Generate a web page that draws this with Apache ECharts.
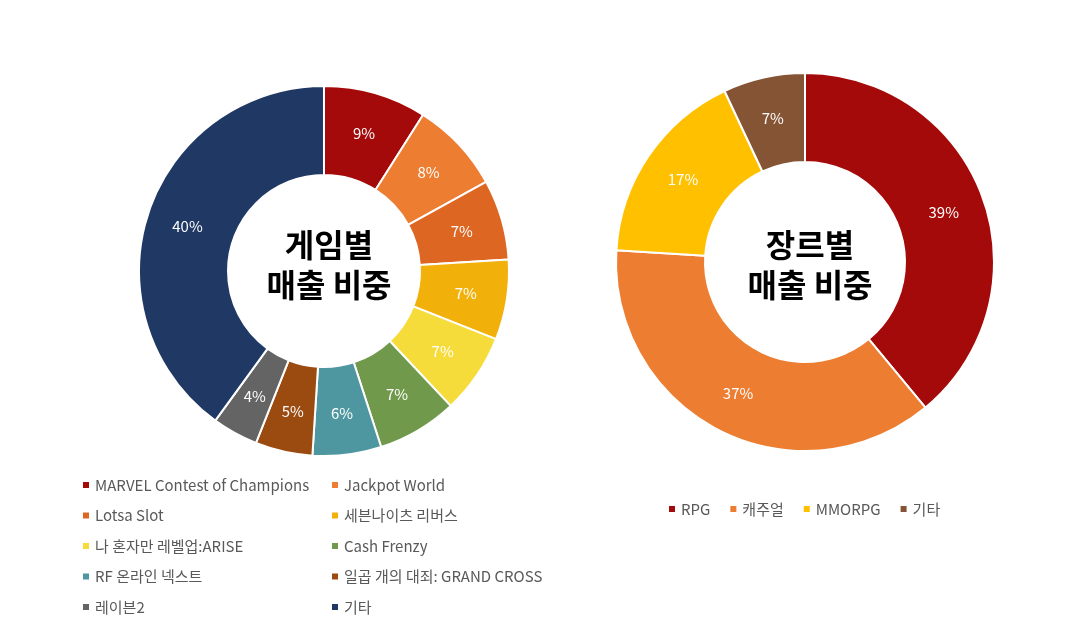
<!DOCTYPE html>
<html>
<head>
<meta charset="utf-8">
<script src="https://cdn.jsdelivr.net/npm/echarts@6/dist/echarts.min.js"></script>
<style>
  html, body { margin: 0; padding: 0; background: #fff; }
  #chart { width: 1071px; height: 634px; }
</style>
</head>
<body>
<div id="chart"></div>
<script>
// 게임별 매출 비중
const gameNames = ['MARVEL Contest of Champions', 'Jackpot World', 'Lotsa Slot', '세븐나이츠 리버스',
  '나 혼자만 레벨업:ARISE', 'Cash Frenzy', 'RF 온라인 넥스트', '일곱 개의 대죄: GRAND CROSS', '레이븐2', '기타'];
const gameValues = [9, 8, 7, 7, 7, 7, 6, 5, 4, 40];
const gameColors = ['#A50A0A', '#ED7D31', '#DD6722', '#F2B10A', '#F6DC3A', '#70994C', '#4E97A0', '#9B4A10', '#646464', '#203864'];

// 장르별 매출 비중 (기타 뒤 공백은 왼쪽 '기타'와 구분용)
const genreNames = ['RPG', '캐주얼', 'MMORPG', '기타 '];
const genreValues = [39, 37, 17, 7];
const genreColors = ['#A50A0A', '#ED7D31', '#FFC000', '#845434'];

const font = '"Noto Sans CJK KR", "Noto Sans", sans-serif';

const chart = echarts.init(document.getElementById('chart'));

const legendText = { color: '#595959', fontSize: 15, fontFamily: font, lineHeight: 16 };
const titleText = { fontSize: 32, fontWeight: 'bold', color: '#000', lineHeight: 40, fontFamily: font };

chart.setOption({
  backgroundColor: '#fff',
  title: [
    { text: '게임별\n매출 비중', left: 324, top: 260, textAlign: 'center', textVerticalAlign: 'middle', textStyle: titleText },
    { text: '장르별\n매출 비중', left: 805, top: 260, textAlign: 'center', textVerticalAlign: 'middle', textStyle: titleText }
  ],
  legend: [
    {
      orient: 'vertical', left: 76, top: 472,
      icon: 'rect', itemWidth: 8, itemHeight: 8, itemGap: 14.5,
      data: gameNames.filter((n, i) => i % 2 === 0),
      textStyle: legendText
    },
    {
      orient: 'vertical', left: 325, top: 472,
      icon: 'rect', itemWidth: 8, itemHeight: 8, itemGap: 14.5,
      data: gameNames.filter((n, i) => i % 2 === 1),
      textStyle: legendText
    },
    {
      orient: 'horizontal', left: 662, top: 496,
      icon: 'rect', itemWidth: 8, itemHeight: 8, itemGap: 18,
      data: genreNames,
      textStyle: legendText
    }
  ],
  series: [
    {
      type: 'pie',
      center: [324, 271],
      radius: [96, 185],
      startAngle: 90,
      clockwise: true,
      avoidLabelOverlap: false,
      label: {
        show: true, position: 'inside', color: '#fff', fontSize: 15, fontFamily: font,
        formatter: p => p.value + '%'
      },
      labelLine: { show: false },
      itemStyle: { borderColor: '#fff', borderWidth: 2 },
      emphasis: { disabled: true },
      data: gameNames.map((n, i) => ({ name: n, value: gameValues[i], itemStyle: { color: gameColors[i] } }))
    },
    {
      type: 'pie',
      center: [805, 262],
      radius: [100, 189],
      startAngle: 90,
      clockwise: true,
      avoidLabelOverlap: false,
      label: {
        show: true, position: 'inside', color: '#fff', fontSize: 15, fontFamily: font,
        formatter: p => p.value + '%'
      },
      labelLine: { show: false },
      itemStyle: { borderColor: '#fff', borderWidth: 2 },
      emphasis: { disabled: true },
      data: genreNames.map((n, i) => ({ name: n, value: genreValues[i], itemStyle: { color: genreColors[i] } }))
    }
  ]
});
</script>
</body>
</html>
